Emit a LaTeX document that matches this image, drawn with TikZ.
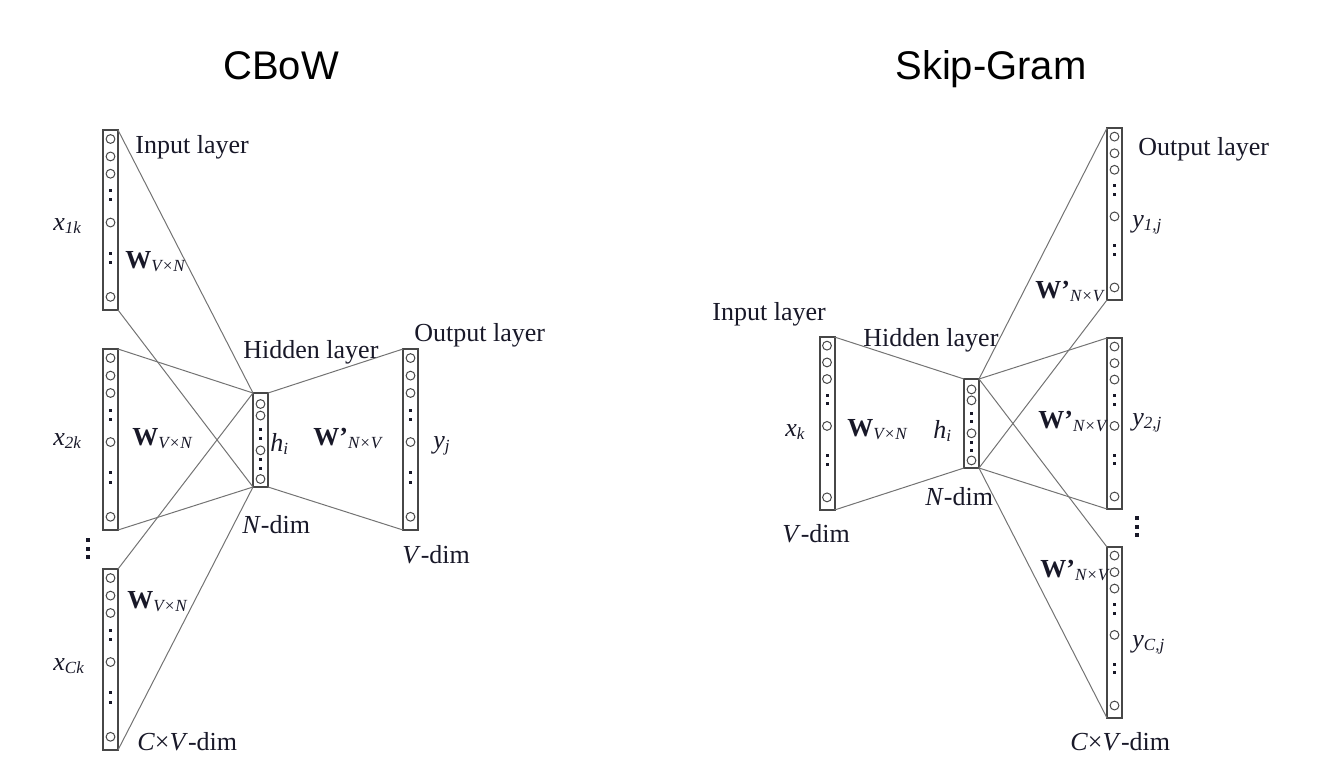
\documentclass[tikz,border=0pt]{standalone}
\usepackage{fontspec}
\setmainfont{Liberation Serif}
\newfontfamily\headfont{Liberation Sans}
\usetikzlibrary{calc}
\definecolor{inkblue}{RGB}{24,24,40}
\def\lsub#1{\raisebox{-1.8pt}{\fontsize{8.5}{10}\selectfont\itshape #1}}
\def\wordvec(#1)(#2,#3)(#4){%
	\node[vecbox, minimum height=#4*0.5pt] (#1) at (#2,#3) {};
	\foreach \pos in {0.05,0.147,0.243,0.514,0.927}
		\draw[unit] ($(#1.north)!\pos!(#1.south)$) circle (2.2pt);
	\foreach \pos in {0.337,0.387,0.685,0.735}
		\fill[inkblue] ($(#1.north)!\pos!(#1.south)$) +(-0.75pt,-0.75pt) rectangle +(0.75pt,0.75pt);
}
\def\hidvec(#1)(#2,#3)(#4){%
	\node[vecbox, minimum height=#4*0.5pt] (#1) at (#2,#3) {};
	\foreach \pos in {0.117,0.24,0.61,0.915}
		\draw[unit] ($(#1.north)!\pos!(#1.south)$) circle (2.2pt);
	\foreach \pos in {0.39,0.48,0.71,0.80}
		\fill[inkblue] ($(#1.north)!\pos!(#1.south)$) +(-0.75pt,-0.75pt) rectangle +(0.75pt,0.75pt);
}

\begin{document}
\begin{tikzpicture}[x=0.5pt, y=-0.5pt,
		vecbox/.style={draw=black!72, line width=1pt, minimum width=7.5pt, inner sep=0pt, outer sep=0pt},
		unit/.style={draw=black!72, line width=0.5pt},
		link/.style={draw=black!55, line width=0.5pt},
		lbl/.style={anchor=base west, inner sep=0pt, text=inkblue, font=\fontsize{13}{15}\selectfont},
		title/.style={anchor=base, inner sep=0pt, font=\headfont\fontsize{20}{24}\selectfont}]
	%%%%% START %%%%%
	
	\useasboundingbox (0,0) rectangle (1330,778);
	
	\node[title] (cbow) at (281,79) {CBoW};
	\node[title] (skip) at (991,79) {Skip-Gram};
	
	% CBoW
	\wordvec(inA)(110.5,220)(180)
	\wordvec(inB)(110.5,439.5)(181)
	\wordvec(inC)(110.5,659.5)(181)
	\hidvec(hidL)(260.5,440)(94)
	\wordvec(outL)(410.5,439.5)(181)
	
	\draw[link] (inA.north east) -- (hidL.north west);
	\draw[link] (inA.south east) -- (hidL.south west);
	\draw[link] (inB.north east) -- (hidL.north west);
	\draw[link] (inB.south east) -- (hidL.south west);
	\draw[link] (inC.north east) -- (hidL.north west);
	\draw[link] (inC.south east) -- (hidL.south west);
	\draw[link] (hidL.north east) -- (outL.north west);
	\draw[link] (hidL.south east) -- (outL.south west);
	
	\foreach \yy in {540,548.5,557}
		\fill[inkblue] (88,\yy) +(-1pt,-1pt) rectangle +(1pt,1pt);
	
	\node[lbl] (inlayL) at (135,153) {Input layer};
	\node[lbl] (xA) at (53,230) {\textit{x}\lsub{1k}};
	\node[lbl] (wA) at (125,268) {\textbf{W}\lsub{V×N}};
	\node[lbl] (xB) at (53,445) {\textit{x}\lsub{2k}};
	\node[lbl] (wB) at (132,445) {\textbf{W}\lsub{V×N}};
	\node[lbl] (xC) at (53,670) {\textit{x}\lsub{Ck}};
	\node[lbl] (wC) at (127,608) {\textbf{W}\lsub{V×N}};
	\node[lbl] (cvL) at (137,750) {\textit{C}×\textit{V}-dim};
	\node[lbl] (hidlayL) at (243,358) {Hidden layer};
	\node[lbl] (hL) at (270,451) {\textit{h}\lsub{i}};
	\node[lbl] (ndimL) at (242,533) {\textit{N}-dim};
	\node[lbl] (wpL) at (313,445) {\textbf{W'}\lsub{N×V}};
	\node[lbl] (outlayL) at (414,341) {Output layer};
	\node[lbl] (yL) at (433,448) {\textit{y}\lsub{j}};
	\node[lbl] (vdimL) at (402,563) {\textit{V}-dim};
	
	% Skip-Gram
	\wordvec(inR)(827,423.5)(173)
	\hidvec(hidR)(971.5,423.5)(89)
	\wordvec(outA)(1114.5,214)(172)
	\wordvec(outB)(1114.5,423.5)(171)
	\wordvec(outC)(1114.5,632.5)(171)
	
	\draw[link] (inR.north east) -- (hidR.north west);
	\draw[link] (inR.south east) -- (hidR.south west);
	\draw[link] (hidR.north east) -- (outA.north west);
	\draw[link] (hidR.south east) -- (outA.south west);
	\draw[link] (hidR.north east) -- (outB.north west);
	\draw[link] (hidR.south east) -- (outB.south west);
	\draw[link] (hidR.north east) -- (outC.north west);
	\draw[link] (hidR.south east) -- (outC.south west);
	
	\foreach \yy in {518,526.5,535}
		\fill[inkblue] (1137,\yy) +(-1pt,-1pt) rectangle +(1pt,1pt);
	
	\node[lbl] (inlayR) at (712,320) {Input layer};
	\node[lbl] (xR) at (785,436) {\textit{x}\lsub{k}};
	\node[lbl] (wR) at (847,436) {\textbf{W}\lsub{V×N}};
	\node[lbl] (vdimR) at (782,542) {\textit{V}-dim};
	\node[lbl] (hidlayR) at (863,346) {Hidden layer};
	\node[lbl] (hR) at (933,438) {\textit{h}\lsub{i}};
	\node[lbl] (ndimR) at (925,505) {\textit{N}-dim};
	\node[lbl] (outlayR) at (1138,155) {Output layer};
	\node[lbl] (yA) at (1132,227) {\textit{y}\lsub{1,j}};
	\node[lbl] (wpA) at (1035,298) {\textbf{W'}\lsub{N×V}};
	\node[lbl] (yB) at (1132,425) {\textit{y}\lsub{2,j}};
	\node[lbl] (wpB) at (1038,428) {\textbf{W'}\lsub{N×V}};
	\node[lbl] (wpC) at (1040,577) {\textbf{W'}\lsub{N×V}};
	\node[lbl] (yC) at (1132,647) {\textit{y}\lsub{C,j}};
	\node[lbl] (cvR) at (1070,750) {\textit{C}×\textit{V}-dim};
	
	%%%%% END %%%%%
\end{tikzpicture}
\end{document}
